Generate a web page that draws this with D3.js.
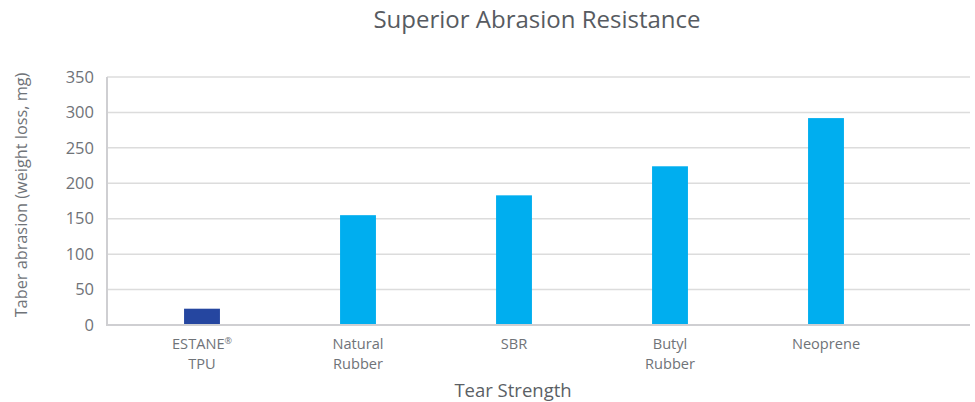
<!DOCTYPE html>
<html>
<head>
<meta charset="utf-8">
<script src="https://cdn.jsdelivr.net/npm/d3@7"></script>
<style>
  body { margin: 0; background: #fff; }
  text { font-family: "Open Sans", sans-serif; }
</style>
</head>
<body>
<div id="chart"></div>
<script>
// data
const categories = [["ESTANE®", "TPU"], ["Natural", "Rubber"], ["SBR"], ["Butyl", "Rubber"], ["Neoprene"]];
const values = [23, 155, 183, 224, 292];
const barColors = ["#2546a0", "#00aeef", "#00aeef", "#00aeef", "#00aeef"];
const yTicks = [0, 50, 100, 150, 200, 250, 300, 350];

function drawBars(selection) {
    const width = 975, height = 402;
    const margin = { top: 77, right: 5, bottom: 77, left: 107 };
    const plotRight = width - margin.right;
    const plotBottom = height - margin.bottom;

    d3.select(selection).html(null);

    var svg = d3.select(selection).append("svg")
        .attr("width", width)
        .attr("height", height);

    var keys = categories.map(function(c) { return c.join(" "); });

    var x = d3.scaleBand()
        .domain(keys)
        .range([124, 904])
        .paddingInner(0.77)
        .paddingOuter(0.385);

    var y = d3.scaleLinear()
        .domain([0, 350])
        .range([plotBottom, margin.top]);

    // gridlines
    svg.append("g")
        .selectAll("line")
        .data(yTicks.filter(function(d) { return d > 0; }))
        .enter().append("line")
        .attr("x1", margin.left)
        .attr("x2", plotRight)
        .attr("y1", function(d) { return y(d); })
        .attr("y2", function(d) { return y(d); })
        .attr("stroke", "#dcdcdc")
        .attr("stroke-width", 1.5);

    // y axis
    var yAxis = svg.append("g")
        .attr("transform", "translate(" + margin.left + ",0)")
        .call(d3.axisLeft(y).tickValues(yTicks).tickSize(0).tickPadding(13));
    yAxis.select(".domain").remove();
    yAxis.selectAll("text")
        .attr("fill", "#6f7378")
        .style("font-size", "16.5px");

    // bars
    svg.append("g")
        .selectAll("rect")
        .data(values)
        .enter().append("rect")
        .attr("x", function(d, i) { return x(keys[i]); })
        .attr("width", x.bandwidth())
        .attr("y", function(d) { return y(d); })
        .attr("height", function(d) { return y(0) - y(d); })
        .attr("fill", function(d, i) { return barColors[i]; });

    // axis frame
    svg.append("line")
        .attr("x1", margin.left).attr("x2", margin.left)
        .attr("y1", margin.top).attr("y2", plotBottom)
        .attr("stroke", "#cfcfd2").attr("stroke-width", 2);
    svg.append("line")
        .attr("x1", margin.left - 1).attr("x2", plotRight)
        .attr("y1", plotBottom).attr("y2", plotBottom)
        .attr("stroke", "#cfcfd2").attr("stroke-width", 2);

    // x labels, one text per line, "®" as a small superscript
    var xl = svg.append("g")
        .selectAll("g")
        .data(categories)
        .enter().append("g")
        .attr("transform", function(d, i) {
            return "translate(" + (x(keys[i]) + x.bandwidth() / 2) + "," + (plotBottom + 24) + ")";
        });
    xl.selectAll("text")
        .data(function(d) { return d; })
        .enter().append("text")
        .attr("text-anchor", "middle")
        .attr("fill", "#6f7378")
        .style("font-size", "14.6px")
        .attr("y", function(d, j) { return j * 20; })
        .each(function(d) {
            var t = d3.select(this);
            var parts = d.split("®");
            t.append("tspan").text(parts[0]);
            if (parts.length > 1) {
                t.append("tspan")
                    .attr("dy", -5)
                    .style("font-size", "9px")
                    .text("®");
            }
        });

    // titles
    svg.append("text")
        .attr("x", 537).attr("y", 28)
        .attr("text-anchor", "middle")
        .attr("fill", "#575b61")
        .style("font-size", "24px")
        .text("Superior Abrasion Resistance");

    svg.append("text")
        .attr("x", 513).attr("y", 397)
        .attr("text-anchor", "middle")
        .attr("fill", "#5b5f65")
        .style("font-size", "18.5px")
        .text("Tear Strength");

    svg.append("text")
        .attr("transform", "translate(27," + 195 + ") rotate(-90)")
        .attr("text-anchor", "middle")
        .attr("fill", "#6f7378")
        .style("font-size", "16.3px")
        .text("Taber abrasion (weight loss, mg)");
}

drawBars("#chart");
</script>
</body>
</html>
